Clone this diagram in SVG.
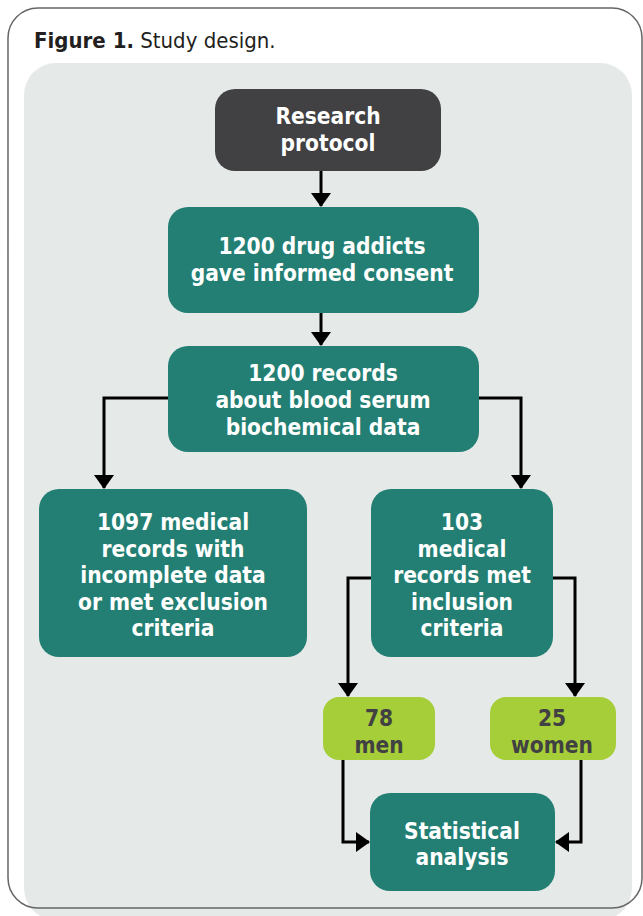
<svg xmlns="http://www.w3.org/2000/svg" width="643" height="916" viewBox="0 0 643 916">
  <style>
    .title { font-family: "DejaVu Sans Condensed", "DejaVu Sans", sans-serif; font-size: 22px; fill: #231f20; }
    .lbl { font-family: "DejaVu Sans Condensed", "DejaVu Sans", sans-serif; font-size: 22.5px; font-weight: bold; text-anchor: middle; }
    .light { fill: #ffffff; }
    .dark { fill: #414042; }
    .teal { fill: #237f73; }
    .lime { fill: #a6ce39; }
    .conn { fill: none; stroke: #000000; stroke-width: 3; }
  </style>
  <defs>
    <marker id="arrow" viewBox="0 0 14 20" refX="13" refY="10" markerWidth="14" markerHeight="20" markerUnits="userSpaceOnUse" orient="auto">
      <path d="M0,0 L14,10 L0,20 Z" fill="#000000"/>
    </marker>
  </defs>

  <!-- background panel and frame -->
  <rect x="0" y="0" width="643" height="916" fill="#ffffff"/>
  <rect x="24" y="63" width="608" height="857" rx="32" fill="#e5e9e8"/>
  <rect x="8" y="8" width="634" height="900" rx="30" fill="none" stroke="#666666" stroke-width="1.5"/>

  <text class="title" x="34" y="48"><tspan font-weight="bold">Figure 1.</tspan> Study design.</text>

  <!-- connectors -->
  <g id="connectors">
    <path class="conn" d="M321,171 V206" marker-end="url(#arrow)"/>
    <path class="conn" d="M321,313 V345" marker-end="url(#arrow)"/>
    <path class="conn" d="M168,398 H104 V488" marker-end="url(#arrow)"/>
    <path class="conn" d="M479,398 H521 V488" marker-end="url(#arrow)"/>
    <path class="conn" d="M371,578 H348 V696" marker-end="url(#arrow)"/>
    <path class="conn" d="M553,578 H575 V696" marker-end="url(#arrow)"/>
    <path class="conn" d="M343,760 V842 H369" marker-end="url(#arrow)"/>
    <path class="conn" d="M581,760 V842 H556" marker-end="url(#arrow)"/>
  </g>

  <!-- nodes -->
  <g id="protocol">
    <rect class="dark" x="215" y="89" width="226" height="82" rx="20"/>
    <text class="lbl light" x="328" y="124"><tspan x="328">Research</tspan><tspan x="328" dy="27">protocol</tspan></text>
  </g>
  <g id="consent">
    <rect class="teal" x="168" y="207" width="311" height="106" rx="20"/>
    <text class="lbl light" x="322" y="254"><tspan x="322">1200 drug addicts</tspan><tspan x="322" dy="27">gave informed consent</tspan></text>
  </g>
  <g id="records">
    <rect class="teal" x="168" y="346" width="311" height="106" rx="20"/>
    <text class="lbl light" x="323" y="381"><tspan x="323">1200 records</tspan><tspan x="323" dy="27">about blood serum</tspan><tspan x="323" dy="27">biochemical data</tspan></text>
  </g>
  <g id="excluded">
    <rect class="teal" x="39" y="489" width="268" height="168" rx="20"/>
    <text class="lbl light" x="173" y="530"><tspan x="173">1097 medical</tspan><tspan x="173" dy="26.6">records with</tspan><tspan x="173" dy="26.6">incomplete data</tspan><tspan x="173" dy="26.6">or met exclusion</tspan><tspan x="173" dy="26.6">criteria</tspan></text>
  </g>
  <g id="included">
    <rect class="teal" x="371" y="489" width="182" height="168" rx="20"/>
    <text class="lbl light" x="462" y="530"><tspan x="462">103</tspan><tspan x="462" dy="26.6">medical</tspan><tspan x="462" dy="26.6">records met</tspan><tspan x="462" dy="26.6">inclusion</tspan><tspan x="462" dy="26.6">criteria</tspan></text>
  </g>
  <g id="men">
    <rect class="lime" x="323" y="697" width="112" height="63" rx="16"/>
    <text class="lbl dark" x="379" y="726"><tspan x="379">78</tspan><tspan x="379" dy="27">men</tspan></text>
  </g>
  <g id="women">
    <rect class="lime" x="490" y="697" width="126" height="63" rx="16"/>
    <text class="lbl dark" x="552" y="726"><tspan x="552">25</tspan><tspan x="552" dy="27">women</tspan></text>
  </g>
  <g id="analysis">
    <rect class="teal" x="370" y="793" width="185" height="98" rx="20"/>
    <text class="lbl light" x="462" y="839"><tspan x="462">Statistical</tspan><tspan x="462" dy="26">analysis</tspan></text>
  </g>
</svg>
